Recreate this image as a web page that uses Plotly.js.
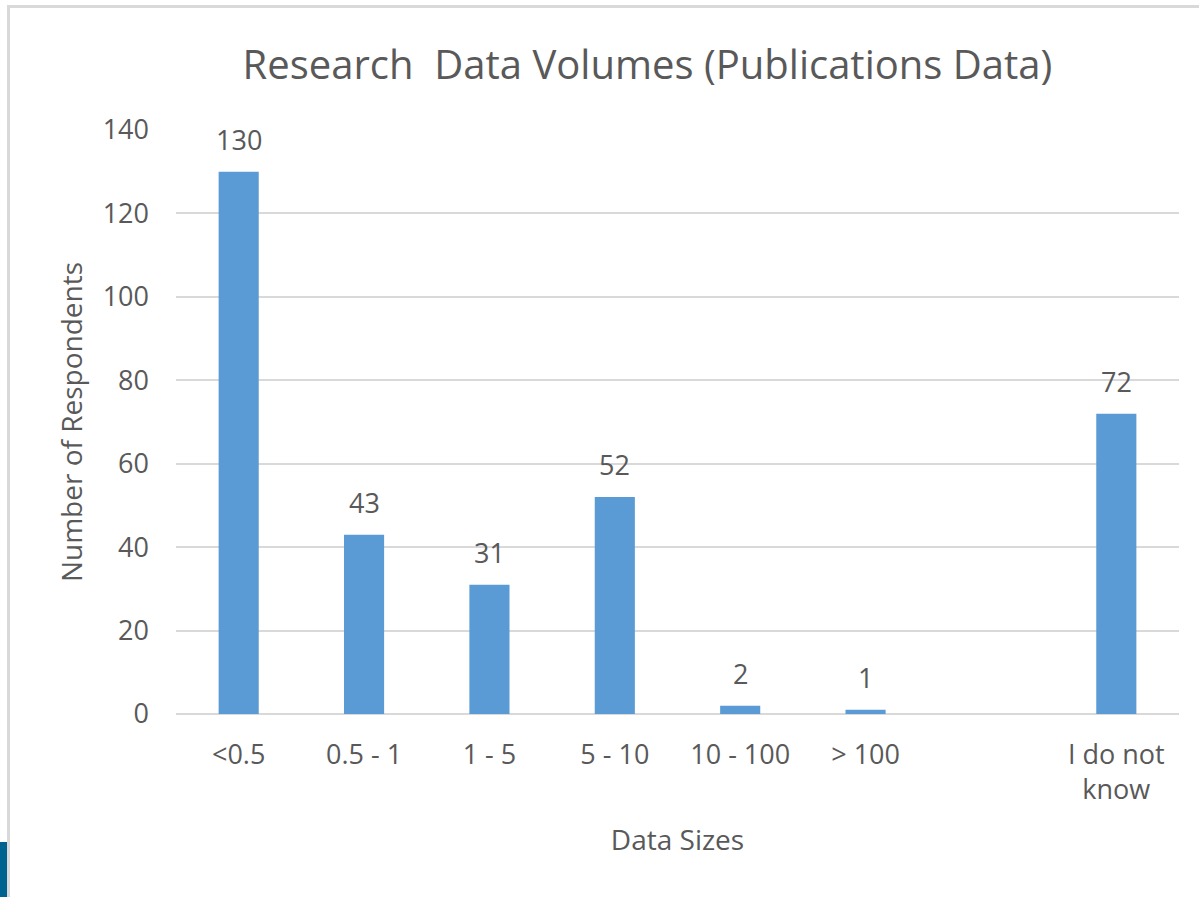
<!DOCTYPE html>
<html><head><meta charset="utf-8">
<script src="https://cdn.plot.ly/plotly-3.0.1.min.js"></script>
<style>
html,body{margin:0;padding:0;background:#fff;}
#frame{position:absolute;left:7px;top:5px;width:1300px;height:1000px;border-left:3px solid #d9d9d9;border-top:3px solid #d9d9d9;box-sizing:border-box;}
#tab{position:absolute;left:0;top:842px;width:7px;height:55px;background:#00628f;}
#chart{position:absolute;left:0;top:0;width:1199px;height:897px;}
</style></head>
<body>
<div id="frame"></div>
<div id="tab"></div>
<div id="chart"></div>
<script>
const categories = ["<0.5", "0.5 - 1", "1 - 5", "5 - 10", "10 - 100", "> 100", "", "I do not<br>know"];
const respondents = [130, 43, 31, 52, 2, 1, null, 72];
const yTicks = [0, 20, 40, 60, 80, 100, 120, 140];

const idx = categories.map((c, i) => i);
const textColor = "#595959";
const fontFamily = "'Open Sans', 'Noto Sans', sans-serif";

const trace = {
  type: "bar",
  x: idx,
  y: respondents,
  width: 0.32,
  marker: {color: "#5b9bd5"},
  hoverinfo: "x+y"
};

const annotations = idx.filter(i => respondents[i] !== null).map(i => ({
  x: i, y: respondents[i], xref: "x", yref: "y",
  text: String(respondents[i]), showarrow: false,
  yanchor: "bottom", yshift: 12,
  font: {family: fontFamily, size: 27, color: textColor}
}));

const layout = {
  width: 1199, height: 897,
  paper_bgcolor: "rgba(0,0,0,0)",
  plot_bgcolor: "rgba(0,0,0,0)",
  margin: {l: 176, r: 20, t: 130, b: 183},
  font: {family: fontFamily, color: textColor, size: 27},
  title: {text: "Research  Data Volumes (Publications Data)", x: 0.54, xref: "container", y: 1 - 65/897, yref: "container", yanchor: "middle", xanchor: "center",
          font: {family: fontFamily, size: 40, color: textColor}},
  xaxis: {
    range: [-0.5, 7.5], tickvals: idx, ticktext: categories,
    showgrid: false, zeroline: false, showline: false, ticks: "",
    ticklabelstandoff: 22,
    tickfont: {size: 27, color: textColor},
    title: {text: "Data Sizes", standoff: 24, font: {size: 28, color: textColor}}
  },
  yaxis: {
    range: [0, 140], tickvals: yTicks,
    showgrid: true, gridcolor: "#d9d9d9", gridwidth: 1.5,
    zeroline: true, zerolinecolor: "#d9d9d9", zerolinewidth: 2,
    showline: false, ticks: "",
    ticklabelstandoff: 26,
    tickfont: {size: 27, color: textColor},
    title: {text: "Number of Respondents", standoff: 11, font: {size: 28, color: textColor}}
  },
  annotations: annotations,
  showlegend: false,
  bargap: 0.68
};

Plotly.newPlot("chart", [trace], layout, {displayModeBar: false, responsive: false});
</script>
</body></html>
